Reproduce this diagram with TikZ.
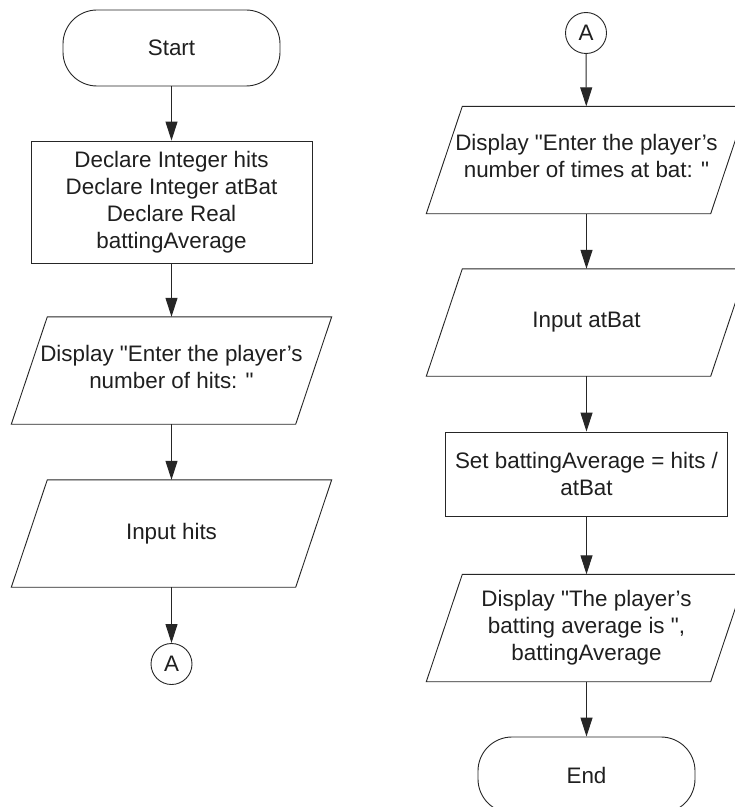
\documentclass[tikz,border=0pt]{standalone}
\usepackage{fontspec}
\setmainfont{Liberation Sans}[Ligatures=TeXOff]
\usetikzlibrary{arrows.meta}

\begin{document}
\begin{tikzpicture}[x=1bp,y=-1bp,>={Triangle[length=19bp,width=12bp]},
 every node/.style={text=black!88,font=\fontsize{22.4bp}{27bp}\selectfont},
 outline/.style={draw=black!85,line width=.9bp},
 term/.style={outline,rounded corners=34bp,minimum width=217bp,minimum height=76bp},
 proc/.style={outline,align=center,inner sep=2pt},
 io/.style={align=center,minimum width=284bp,minimum height=107bp,inner sep=1pt},
 conn/.style={outline,circle,minimum size=41bp,inner sep=0pt},
 flow/.style={->,draw=black!85,line width=1bp}]
\useasboundingbox (0,0) rectangle (735,807);
% left column
\node[term] (start) at (171.5,48) {Start};
\node[proc,minimum width=281bp,minimum height=122bp] (decl) at (171.5,202)
 {Declare Integer hits\\Declare Integer atBat\\Declare Real\\battingAverage};
\node[io] (askhits) at (171.5,370.5) {Display "Enter the player’s\\number of hits: "\\[-19bp]};
\node[io] (inhits) at (171.5,533.5) {Input hits};
\node[conn] (outA) at (171.5,664) {A};

\draw[outline] ([xshift=-18bp]askhits.south west)--([xshift=18bp]askhits.north west)--([xshift=18bp]askhits.north east)--([xshift=-18bp]askhits.south east)--cycle;
\draw[outline] ([xshift=-18bp]inhits.south west)--([xshift=18bp]inhits.north west)--([xshift=18bp]inhits.north east)--([xshift=-18bp]inhits.south east)--cycle;

\draw[flow] (start)--(decl);
\draw[flow] (decl)--(askhits);
\draw[flow] (askhits)--(inhits);
\draw[flow] (inhits)--(outA);
% right column
\node[conn] (inA) at (586,33) {A};
\node[io] (askbat) at (586.5,160) {Display "Enter the player’s\\number of times at bat: "\\[-19bp]};
\node[io] (inbat) at (586.5,322.5) {Input atBat};
\node[proc,minimum width=282bp,minimum height=84bp] (calc) at (586.5,474) {Set battingAverage = hits /\\atBat};
\node[io] (showavg) at (586.5,628) {Display "The player’s\\batting average is ",\\battingAverage};
\node[term] (stop) at (586.5,775) {End};

\draw[outline] ([xshift=-18bp]askbat.south west)--([xshift=18bp]askbat.north west)--([xshift=18bp]askbat.north east)--([xshift=-18bp]askbat.south east)--cycle;
\draw[outline] ([xshift=-18bp]inbat.south west)--([xshift=18bp]inbat.north west)--([xshift=18bp]inbat.north east)--([xshift=-18bp]inbat.south east)--cycle;
\draw[outline] ([xshift=-18bp]showavg.south west)--([xshift=18bp]showavg.north west)--([xshift=18bp]showavg.north east)--([xshift=-18bp]showavg.south east)--cycle;

\draw[flow] (inA)--(askbat);
\draw[flow] (askbat)--(inbat);
\draw[flow] (inbat)--(calc);
\draw[flow] (calc)--(showavg);
\draw[flow] (showavg)--(stop);
\end{tikzpicture}
\end{document}
